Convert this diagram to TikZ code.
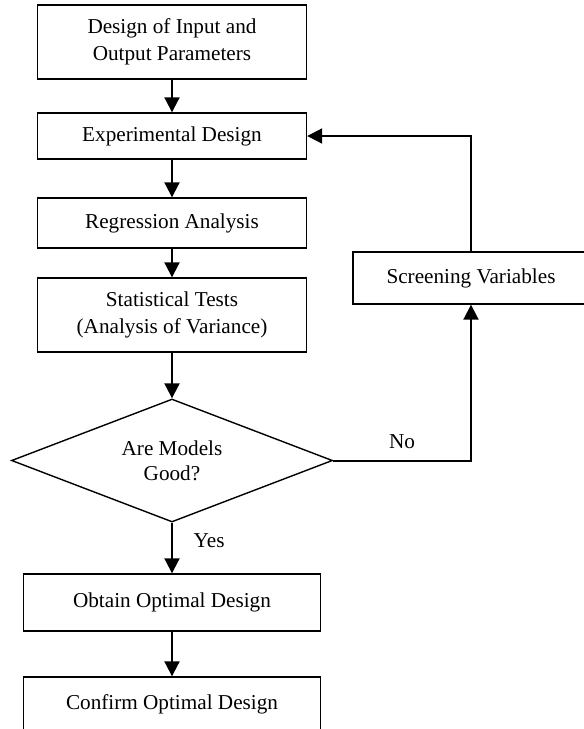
\documentclass[tikz,border=0pt]{standalone}
\usepackage{fontspec}
\setmainfont{Liberation Serif}
\usetikzlibrary{arrows.meta,positioning,shapes.geometric}

\tikzset{
    procbox/.style={draw, line width=0.7pt, align=center, inner sep=0pt},
    decision/.style={diamond, draw, line width=0.7pt, align=center, inner sep=0pt, aspect=2.6},
    flowarrow/.style={-{Triangle[length=7.5pt,width=7.5pt]}, line width=1pt},
}

\begin{document}
\begin{tikzpicture}[x=0.5pt, y=-0.5pt, font=\fontsize{10.6}{13.5}\selectfont]
    \useasboundingbox (0,0) rectangle (584,729);

    % Nodes
    \node[procbox, minimum width=134.5pt, minimum height=37pt] (inout) at (172,42) {Design of Input and\\Output Parameters};
    \node[procbox, minimum width=134.5pt, minimum height=23pt] (expdes) at (172,136) {Experimental Design};
    \node[procbox, minimum width=134.5pt, minimum height=25pt] (regr) at (172,223) {Regression Analysis};
    \node[procbox, minimum width=134.5pt, minimum height=37pt] (stats) at (172,315) {Statistical Tests\\(Analysis of Variance)};
    \node[decision, minimum width=160.5pt, minimum height=61.5pt, font=\fontsize{10.6}{12.5}\selectfont] (good) at (172,460.5) {Are Models\\Good?};
    \node[procbox, minimum width=118pt, minimum height=26pt] (screen) at (471,278) {Screening Variables};
    \node[procbox, minimum width=148.5pt, minimum height=28.5pt] (obtain) at (172,602.5) {Obtain Optimal Design};
    \node[procbox, minimum width=148.5pt, minimum height=27pt] (confirm) at (172,704) {Confirm Optimal Design};

    % Edges
    \draw[flowarrow] (inout) -- (expdes);
    \draw[flowarrow] (expdes) -- (regr);
    \draw[flowarrow] (regr) -- (stats);
    \draw[flowarrow] (stats) -- (good);
    \draw[flowarrow] (good) -- node[pos=0.35, right=7pt] {Yes} (obtain);
    \draw[flowarrow] (obtain) -- (confirm);
    \draw[flowarrow] (good.east) -| node[pos=0.25, above=2pt] {No} (screen.south); % back to screening
    \draw[flowarrow] (screen.north) |- (expdes.east);
\end{tikzpicture}
\end{document}
